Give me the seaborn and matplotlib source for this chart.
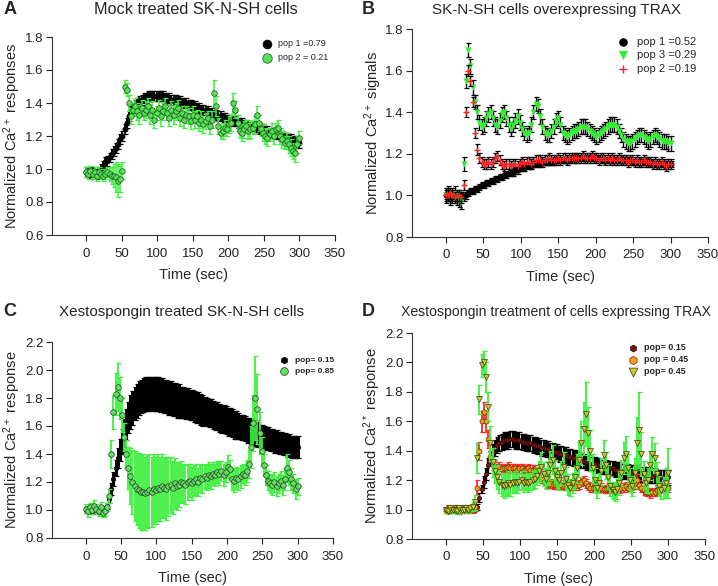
import numpy as np
import matplotlib
matplotlib.use("Agg")
import matplotlib.pyplot as plt
import seaborn as sns

# sampling grid (s), one reading every 3 s
time_s = list(range(0, 301, 3))

# ---- panel A: mock treated ----
a_pop1 = [0.98, 0.98, 0.97, 0.98, 0.98, 0.97, 0.98, 1.00, 1.02, 1.04,
          1.05, 1.07, 1.09, 1.11, 1.13, 1.15, 1.18, 1.20, 1.24, 1.28,
          1.32, 1.35, 1.37, 1.39, 1.40, 1.41, 1.42, 1.43, 1.43, 1.44,
          1.44, 1.44, 1.44, 1.44, 1.44, 1.44, 1.44, 1.43, 1.43, 1.43,
          1.42, 1.42, 1.42, 1.41, 1.41, 1.40, 1.40, 1.40, 1.39, 1.39,
          1.38, 1.38, 1.37, 1.37, 1.36, 1.36, 1.35, 1.35, 1.34, 1.34,
          1.33, 1.33, 1.32, 1.32, 1.31, 1.31, 1.30, 1.30, 1.30, 1.29,
          1.29, 1.28, 1.28, 1.28, 1.27, 1.27, 1.26, 1.26, 1.26, 1.25,
          1.25, 1.24, 1.24, 1.24, 1.23, 1.23, 1.22, 1.22, 1.22, 1.21,
          1.21, 1.20, 1.20, 1.19, 1.19, 1.18, 1.18, 1.17, 1.17, 1.16,
          1.16]
a_pop1_err = 0.03
a_pop2 = [0.98, 0.97, 0.99, 0.97, 0.98, 0.96, 0.98, 0.97, 0.96, 0.97,
          0.98, 0.97, 0.96, 0.96, 0.95, 0.93, 0.94, 0.99, 1.50, 1.48,
          1.40, 1.32, 1.36, 1.38, 1.35, 1.33, 1.37, 1.34, 1.36, 1.38,
          1.33, 1.36, 1.30, 1.34, 1.37, 1.32, 1.35, 1.38, 1.34, 1.31,
          1.36, 1.33, 1.35, 1.37, 1.31, 1.34, 1.30, 1.33, 1.32, 1.29,
          1.33, 1.30, 1.32, 1.28, 1.30, 1.27, 1.29, 1.31, 1.26, 1.30,
          1.46, 1.38, 1.26, 1.22, 1.23, 1.25, 1.24, 1.27, 1.28, 1.40,
          1.36, 1.28, 1.23, 1.22, 1.24, 1.26, 1.23, 1.24, 1.25, 1.27,
          1.33, 1.28, 1.24, 1.22, 1.20, 1.19, 1.21, 1.23, 1.20, 1.24,
          1.25, 1.20, 1.18, 1.16, 1.17, 1.15, 1.13, 1.11, 1.10, 1.15,
          1.19]
a_pop2_err = [0.03, 0.03, 0.03, 0.03, 0.03, 0.03, 0.03, 0.03, 0.03, 0.03,
              0.03, 0.04, 0.05, 0.07, 0.09, 0.10, 0.08, 0.05, 0.04, 0.04,
              0.05, 0.05, 0.04, 0.05, 0.05, 0.06, 0.05, 0.04, 0.05, 0.05,
              0.06, 0.05, 0.05, 0.04, 0.05, 0.06, 0.05, 0.05, 0.04, 0.05,
              0.05, 0.06, 0.05, 0.05, 0.05, 0.04, 0.05, 0.05, 0.05, 0.05,
              0.05, 0.05, 0.04, 0.05, 0.05, 0.05, 0.05, 0.04, 0.05, 0.05,
              0.08, 0.06, 0.05, 0.04, 0.05, 0.05, 0.04, 0.05, 0.05, 0.06,
              0.05, 0.05, 0.04, 0.05, 0.05, 0.04, 0.05, 0.05, 0.04, 0.05,
              0.05, 0.05, 0.04, 0.05, 0.05, 0.05, 0.04, 0.05, 0.05, 0.04,
              0.05, 0.05, 0.05, 0.04, 0.05, 0.05, 0.05, 0.05, 0.06, 0.05,
              0.04]

# ---- panel B: TRAX overexpression ----
b_pop1 = [1.00, 1.00, 0.99, 1.00, 1.00, 0.99, 1.00, 1.00, 0.99, 1.00,
          1.01, 1.02, 1.02, 1.03, 1.03, 1.04, 1.05, 1.05, 1.06, 1.06,
          1.07, 1.07, 1.08, 1.08, 1.09, 1.09, 1.10, 1.10, 1.11, 1.11,
          1.11, 1.12, 1.12, 1.13, 1.13, 1.13, 1.14, 1.14, 1.14, 1.15,
          1.15, 1.15, 1.15, 1.16, 1.16, 1.16, 1.16, 1.16, 1.17, 1.17,
          1.17, 1.17, 1.17, 1.17, 1.17, 1.17, 1.18, 1.18, 1.18, 1.18,
          1.18, 1.18, 1.18, 1.18, 1.18, 1.18, 1.18, 1.18, 1.18, 1.18,
          1.17, 1.17, 1.17, 1.17, 1.17, 1.17, 1.17, 1.17, 1.17, 1.17,
          1.17, 1.17, 1.17, 1.16, 1.16, 1.16, 1.16, 1.16, 1.16, 1.16,
          1.16, 1.16, 1.15, 1.15, 1.15, 1.15, 1.15, 1.15, 1.15, 1.15,
          1.15]
b_pop1_err = 0.015
b_pop3 = [1.00, 1.01, 0.99, 1.00, 1.01, 0.99, 0.98, 0.97, 1.15, 1.55,
          1.70, 1.62, 1.52, 1.45, 1.40, 1.35, 1.33, 1.34, 1.37, 1.39,
          1.40, 1.37, 1.34, 1.33, 1.36, 1.39, 1.40, 1.37, 1.34, 1.32,
          1.34, 1.36, 1.38, 1.35, 1.32, 1.30, 1.29, 1.30, 1.34, 1.40,
          1.44, 1.43, 1.38, 1.33, 1.30, 1.29, 1.29, 1.31, 1.33, 1.36,
          1.37, 1.34, 1.30, 1.29, 1.28, 1.29, 1.30, 1.31, 1.31, 1.32,
          1.33, 1.33, 1.33, 1.32, 1.31, 1.30, 1.29, 1.28, 1.29, 1.30,
          1.31, 1.32, 1.33, 1.34, 1.34, 1.34, 1.33, 1.31, 1.29, 1.27,
          1.26, 1.25, 1.25, 1.26, 1.27, 1.28, 1.29, 1.29, 1.28, 1.27,
          1.26, 1.27, 1.28, 1.29, 1.28, 1.27, 1.26, 1.26, 1.26, 1.25,
          1.25]
b_pop3_err = 0.035
b_pop2 = [1.00, 1.00, 1.01, 1.00, 0.99, 1.00, 1.00, 0.99, 1.05, 1.40,
          1.60, 1.55, 1.45, 1.30, 1.22, 1.18, 1.16, 1.15, 1.15, 1.16,
          1.15, 1.16, 1.18, 1.19, 1.17, 1.15, 1.14, 1.15, 1.15, 1.14,
          1.15, 1.15, 1.14, 1.15, 1.16, 1.15, 1.16, 1.16, 1.15, 1.16,
          1.17, 1.17, 1.17, 1.16, 1.17, 1.17, 1.18, 1.17, 1.17, 1.17,
          1.18, 1.17, 1.18, 1.18, 1.17, 1.18, 1.18, 1.18, 1.18, 1.18,
          1.18, 1.19, 1.18, 1.18, 1.18, 1.19, 1.18, 1.18, 1.17, 1.18,
          1.18, 1.17, 1.18, 1.17, 1.18, 1.17, 1.17, 1.18, 1.17, 1.17,
          1.17, 1.16, 1.17, 1.17, 1.16, 1.17, 1.16, 1.16, 1.17, 1.16,
          1.16, 1.16, 1.15, 1.16, 1.15, 1.15, 1.16, 1.15, 1.14, 1.15,
          1.15]
b_pop2_err = 0.025

# ---- panel C: xestospongin ----
c_pop15 = [1.00, 1.01, 1.00, 0.99, 1.00, 1.00, 0.99, 1.00, 1.00, 1.01,
           1.03, 1.08, 1.15, 1.22, 1.30, 1.37, 1.43, 1.49, 1.55, 1.61,
           1.66, 1.70, 1.73, 1.76, 1.78, 1.80, 1.81, 1.82, 1.83, 1.83,
           1.83, 1.83, 1.83, 1.83, 1.83, 1.82, 1.82, 1.81, 1.81, 1.80,
           1.80, 1.79, 1.79, 1.78, 1.78, 1.77, 1.77, 1.76, 1.76, 1.75,
           1.75, 1.74, 1.73, 1.73, 1.72, 1.71, 1.71, 1.70, 1.69, 1.69,
           1.68, 1.67, 1.67, 1.66, 1.65, 1.65, 1.64, 1.63, 1.63, 1.62,
           1.61, 1.61, 1.60, 1.59, 1.59, 1.58, 1.57, 1.57, 1.56, 1.55,
           1.55, 1.54, 1.53, 1.53, 1.52, 1.51, 1.51, 1.50, 1.50, 1.49,
           1.49, 1.48, 1.48, 1.47, 1.47, 1.46, 1.46, 1.45, 1.45, 1.45,
           1.45]
c_pop15_err = [0.02, 0.02, 0.02, 0.02, 0.02, 0.02, 0.02, 0.02, 0.02, 0.02,
               0.02, 0.03, 0.04, 0.05, 0.06, 0.07, 0.08, 0.09, 0.10, 0.11,
               0.11, 0.12, 0.12, 0.12, 0.12, 0.12, 0.12, 0.12, 0.12, 0.12,
               0.12, 0.12, 0.12, 0.12, 0.12, 0.12, 0.12, 0.12, 0.12, 0.12,
               0.12, 0.12, 0.12, 0.12, 0.12, 0.11, 0.11, 0.11, 0.11, 0.11,
               0.11, 0.11, 0.11, 0.11, 0.11, 0.11, 0.10, 0.10, 0.10, 0.10,
               0.10, 0.10, 0.10, 0.10, 0.10, 0.10, 0.10, 0.10, 0.10, 0.10,
               0.10, 0.10, 0.09, 0.09, 0.09, 0.09, 0.09, 0.09, 0.09, 0.09,
               0.09, 0.09, 0.08, 0.08, 0.08, 0.08, 0.08, 0.08, 0.08, 0.08,
               0.08, 0.08, 0.08, 0.08, 0.08, 0.08, 0.08, 0.08, 0.08, 0.08,
               0.08]
c_pop85 = [1.01, 0.99, 1.02, 1.00, 1.03, 1.01, 0.99, 1.02, 0.98, 0.99,
           1.02, 1.10, 1.40, 1.70, 1.83, 1.88, 1.80, 1.68, 1.52, 1.40,
           1.30, 1.24, 1.20, 1.17, 1.15, 1.14, 1.13, 1.13, 1.12, 1.13,
           1.14, 1.13, 1.15, 1.14, 1.16, 1.15, 1.17, 1.16, 1.15, 1.17,
           1.18, 1.16, 1.19, 1.17, 1.18, 1.20, 1.19, 1.18, 1.20, 1.21,
           1.19, 1.21, 1.22, 1.20, 1.23, 1.22, 1.24, 1.23, 1.25, 1.24,
           1.26, 1.25, 1.27, 1.26, 1.28, 1.25, 1.27, 1.31, 1.29, 1.22,
           1.21, 1.23, 1.22, 1.24, 1.26, 1.25, 1.28, 1.33, 1.45, 1.62,
           1.80, 1.72, 1.55, 1.42, 1.32, 1.25, 1.21, 1.19, 1.18, 1.20,
           1.17, 1.19, 1.21, 1.18, 1.22, 1.30, 1.27, 1.22, 1.19, 1.15,
           1.17]
c_pop85_err = [0.03, 0.04, 0.03, 0.03, 0.04, 0.03, 0.03, 0.04, 0.03, 0.03,
               0.03, 0.05, 0.10, 0.12, 0.15, 0.17, 0.15, 0.12, 0.10, 0.10,
               0.15, 0.20, 0.23, 0.25, 0.26, 0.27, 0.27, 0.27, 0.26, 0.26,
               0.26, 0.25, 0.25, 0.24, 0.24, 0.23, 0.23, 0.22, 0.22, 0.21,
               0.20, 0.19, 0.18, 0.17, 0.16, 0.15, 0.14, 0.14, 0.13, 0.12,
               0.12, 0.11, 0.11, 0.10, 0.10, 0.10, 0.09, 0.09, 0.09, 0.09,
               0.08, 0.08, 0.08, 0.08, 0.07, 0.08, 0.07, 0.08, 0.07, 0.08,
               0.08, 0.08, 0.08, 0.08, 0.07, 0.07, 0.08, 0.10, 0.15, 0.20,
               0.30, 0.25, 0.15, 0.10, 0.08, 0.07, 0.07, 0.07, 0.07, 0.07,
               0.07, 0.07, 0.07, 0.07, 0.08, 0.10, 0.09, 0.08, 0.07, 0.07,
               0.06]

# ---- panel D: xestospongin + TRAX ----
d_pop15 = [1.00, 1.00, 1.01, 1.00, 1.00, 1.01, 1.00, 1.00, 1.01, 1.00,
           1.00, 1.01, 1.00, 1.00, 1.02, 1.08, 1.14, 1.19, 1.24, 1.30,
           1.35, 1.39, 1.42, 1.44, 1.45, 1.46, 1.47, 1.47, 1.47, 1.48,
           1.48, 1.47, 1.47, 1.47, 1.46, 1.46, 1.45, 1.45, 1.45, 1.44,
           1.44, 1.43, 1.43, 1.42, 1.42, 1.41, 1.41, 1.40, 1.40, 1.39,
           1.39, 1.38, 1.38, 1.37, 1.37, 1.36, 1.36, 1.35, 1.35, 1.34,
           1.34, 1.33, 1.33, 1.32, 1.32, 1.31, 1.31, 1.31, 1.30, 1.30,
           1.29, 1.29, 1.29, 1.28, 1.28, 1.28, 1.27, 1.27, 1.27, 1.26,
           1.26, 1.26, 1.26, 1.25, 1.25, 1.25, 1.25, 1.24, 1.24, 1.24,
           1.24, 1.23, 1.23, 1.23, 1.23, 1.22, 1.22, 1.22, 1.22, 1.22,
           1.22]
d_pop15_err = [0.01, 0.01, 0.01, 0.01, 0.01, 0.01, 0.01, 0.01, 0.01, 0.01,
               0.01, 0.01, 0.01, 0.01, 0.02, 0.03, 0.03, 0.04, 0.04, 0.05,
               0.05, 0.055, 0.055, 0.055, 0.055, 0.055, 0.055, 0.055, 0.055, 0.055,
               0.055, 0.055, 0.055, 0.055, 0.055, 0.055, 0.055, 0.055, 0.055, 0.055,
               0.055, 0.055, 0.055, 0.055, 0.055, 0.055, 0.055, 0.055, 0.055, 0.055,
               0.055, 0.055, 0.055, 0.055, 0.055, 0.055, 0.055, 0.055, 0.055, 0.055,
               0.05, 0.05, 0.05, 0.05, 0.05, 0.05, 0.05, 0.05, 0.05, 0.05,
               0.05, 0.05, 0.05, 0.05, 0.05, 0.05, 0.05, 0.05, 0.05, 0.05,
               0.05, 0.05, 0.05, 0.05, 0.05, 0.05, 0.05, 0.05, 0.05, 0.05,
               0.05, 0.05, 0.05, 0.05, 0.05, 0.05, 0.05, 0.05, 0.05, 0.05,
               0.05]
d_pop45a = [1.00, 1.01, 1.00, 1.00, 1.01, 1.00, 0.99, 1.00, 1.01, 1.00,
            1.00, 1.01, 1.00, 1.02, 1.15, 1.40, 1.60, 1.66, 1.60, 1.48,
            1.36, 1.30, 1.29, 1.28, 1.29, 1.28, 1.28, 1.28, 1.29, 1.28,
            1.28, 1.28, 1.27, 1.28, 1.28, 1.27, 1.27, 1.28, 1.27, 1.27,
            1.27, 1.26, 1.24, 1.21, 1.19, 1.18, 1.18, 1.18, 1.17, 1.17,
            1.17, 1.17, 1.17, 1.16, 1.16, 1.16, 1.16, 1.16, 1.16, 1.16,
            1.17, 1.19, 1.20, 1.18, 1.16, 1.15, 1.15, 1.15, 1.14, 1.15,
            1.15, 1.14, 1.14, 1.15, 1.14, 1.14, 1.13, 1.14, 1.14, 1.15,
            1.15, 1.16, 1.15, 1.16, 1.15, 1.18, 1.20, 1.17, 1.15, 1.13,
            1.12, 1.12, 1.11, 1.12, 1.12, 1.13, 1.14, 1.15, 1.16, 1.15,
            1.15]
d_pop45a_err = [0.02, 0.02, 0.02, 0.02, 0.02, 0.02, 0.02, 0.02, 0.02, 0.02,
                0.02, 0.02, 0.02, 0.03, 0.05, 0.06, 0.07, 0.07, 0.07, 0.06,
                0.04, 0.03, 0.03, 0.03, 0.03, 0.03, 0.03, 0.03, 0.03, 0.03,
                0.03, 0.03, 0.03, 0.03, 0.03, 0.03, 0.03, 0.03, 0.03, 0.03,
                0.03, 0.03, 0.03, 0.03, 0.03, 0.03, 0.03, 0.03, 0.03, 0.03,
                0.03, 0.03, 0.03, 0.03, 0.03, 0.03, 0.03, 0.03, 0.03, 0.03,
                0.03, 0.03, 0.03, 0.03, 0.03, 0.03, 0.03, 0.03, 0.03, 0.03,
                0.03, 0.03, 0.03, 0.03, 0.03, 0.03, 0.03, 0.03, 0.03, 0.03,
                0.03, 0.03, 0.03, 0.03, 0.03, 0.04, 0.04, 0.03, 0.03, 0.03,
                0.03, 0.03, 0.03, 0.03, 0.03, 0.03, 0.03, 0.03, 0.03, 0.03,
                0.03]
d_pop45b = [1.00, 0.99, 1.01, 1.00, 1.00, 0.99, 1.01, 1.00, 1.00, 1.01,
            1.00, 1.01, 1.02, 1.05, 1.35, 1.75, 1.98, 2.00, 1.90, 1.70,
            1.45, 1.32, 1.26, 1.22, 1.19, 1.17, 1.16, 1.17, 1.18, 1.17,
            1.18, 1.19, 1.18, 1.19, 1.20, 1.18, 1.19, 1.18, 1.19, 1.20,
            1.21, 1.23, 1.26, 1.29, 1.24, 1.21, 1.25, 1.30, 1.34, 1.26,
            1.22, 1.20, 1.25, 1.29, 1.21, 1.17, 1.15, 1.18, 1.22, 1.28,
            1.34, 1.45, 1.55, 1.65, 1.52, 1.40, 1.28, 1.20, 1.15, 1.18,
            1.26, 1.37, 1.30, 1.22, 1.16, 1.13, 1.12, 1.14, 1.18, 1.25,
            1.35, 1.38, 1.28, 1.20, 1.16, 1.25, 1.45, 1.54, 1.38, 1.24,
            1.18, 1.20, 1.30, 1.38, 1.35, 1.24, 1.16, 1.13, 1.15, 1.18,
            1.25]
d_pop45b_err = [0.02, 0.02, 0.02, 0.02, 0.02, 0.02, 0.02, 0.02, 0.02, 0.02,
                0.02, 0.02, 0.03, 0.05, 0.10, 0.10, 0.08, 0.08, 0.10, 0.10,
                0.12, 0.10, 0.08, 0.08, 0.08, 0.08, 0.08, 0.08, 0.08, 0.08,
                0.07, 0.07, 0.07, 0.06, 0.06, 0.06, 0.06, 0.06, 0.06, 0.06,
                0.06, 0.06, 0.07, 0.10, 0.08, 0.07, 0.08, 0.10, 0.10, 0.08,
                0.07, 0.07, 0.08, 0.10, 0.08, 0.07, 0.06, 0.07, 0.08, 0.10,
                0.12, 0.15, 0.18, 0.22, 0.18, 0.14, 0.10, 0.08, 0.07, 0.07,
                0.09, 0.10, 0.09, 0.08, 0.07, 0.06, 0.06, 0.07, 0.08, 0.09,
                0.11, 0.12, 0.10, 0.08, 0.07, 0.10, 0.18, 0.26, 0.15, 0.09,
                0.07, 0.08, 0.10, 0.11, 0.10, 0.08, 0.07, 0.06, 0.07, 0.10,
                0.17]

x_ticks = [0, 50, 100, 150, 200, 250, 300, 350]

sns.set_style("ticks")
plt.rcParams["font.family"] = ["Liberation Sans", "DejaVu Sans"]
plt.rcParams["mathtext.default"] = "regular"

W, H = 718, 586
fig = plt.figure(figsize=(W / 100, H / 100), dpi=100)


def px_axes(left, top, right, bottom):
    return fig.add_axes([left / W, 1 - bottom / H, (right - left) / W, (bottom - top) / H])


def draw_series(ax, mean, err, marker, face, edge, ecolor, size, label, z, elw=1.0, mlw=0.5):
    ax.errorbar(time_s, mean, yerr=err, fmt="none", ecolor=ecolor, elinewidth=elw,
                capsize=1.8, capthick=0.9, zorder=z)
    if marker == "+":
        sns.scatterplot(x=time_s, y=mean, ax=ax, marker=marker, color=face, s=size,
                        linewidth=1.0, label=label, zorder=z + 0.5)
    else:
        sns.scatterplot(x=time_s, y=mean, ax=ax, marker=marker, color=face, edgecolor=edge,
                        s=size, linewidth=mlw, label=label, zorder=z + 0.5)


def style_axes(ax, xlim, yticks, ylabel, label_x):
    ax.set_xlim(*xlim)
    ax.set_ylim(yticks[0], yticks[-1])
    ax.set_xticks(x_ticks)
    ax.set_yticks(yticks)
    ax.set_yticklabels([f"{v:.1f}" for v in yticks])
    ax.tick_params(direction="out", length=4, width=0.8, labelsize=9.5, colors="#222222")
    ax.tick_params(axis="x", pad=5)
    ax.tick_params(axis="y", pad=2)
    for side in ("top", "right"):
        ax.spines[side].set_visible(False)
    for side in ("left", "bottom"):
        ax.spines[side].set_linewidth(0.8)
        ax.spines[side].set_color("#333333")
    ax.set_xlabel("Time (sec)", fontsize=10.5, labelpad=6)
    ax.set_ylabel(ylabel, fontsize=10.5, va="center")
    ax.yaxis.set_label_coords(label_x, 0.5)


green = "#3CF03C"
leg_kw = dict(frameon=False, borderpad=0, handlelength=1.0, handletextpad=0.8,
              borderaxespad=0)

# A
axA = px_axes(52, 37, 335, 235)
draw_series(axA, a_pop1, a_pop1_err, "o", "black", "black", "black", 14, "pop 1 =0.79", 2, elw=1.3)
draw_series(axA, a_pop2, a_pop2_err, "o", "#55E055", "#1E4D1E", green, 16, "pop 2 = 0.21", 4, elw=1.1)
style_axes(axA, (-48, 350), [0.6, 0.8, 1.0, 1.2, 1.4, 1.6, 1.8], "Normalized Ca$^{2+}$ responses", -0.141)
axA.legend(loc="upper left", bbox_to_anchor=(262 / W, 1 - 39 / H), bbox_transform=fig.transFigure,
           fontsize=6.5, labelspacing=0.55, markerscale=1.7, **leg_kw)

# B
axB = px_axes(412, 29, 708, 237)
draw_series(axB, b_pop1, b_pop1_err, "o", "black", "black", "black", 14, "pop 1 =0.52", 2)
draw_series(axB, b_pop3, b_pop3_err, "v", "#33F033", "#33F033", "black", 20, "pop 3 =0.29", 4, mlw=0)
draw_series(axB, b_pop2, b_pop2_err, "+", "#FF2020", None, "black", 14, "pop 2 =0.19", 6)
style_axes(axB, (-45, 350), [0.8, 1.0, 1.2, 1.4, 1.6, 1.8], "Normalized Ca$^{2+}$ signals", -0.132)
axB.legend(loc="upper left", bbox_to_anchor=(617 / W, 1 - 37 / H), bbox_transform=fig.transFigure,
           fontsize=8, labelspacing=0.3, markerscale=1.5, **leg_kw)

# C
axC = px_axes(52, 342, 333, 538)
draw_series(axC, c_pop15, c_pop15_err, "h", "black", "black", "black", 12, "pop= 0.15", 2, elw=2.2)
draw_series(axC, c_pop85, c_pop85_err, "o", "#66DD66", "#1E3D1E", green, 16, "pop= 0.85", 4, elw=1.3)
style_axes(axC, (-48, 350), [0.8, 1.0, 1.2, 1.4, 1.6, 1.8, 2.0, 2.2], "Normalized Ca$^{2+}$ response", -0.142)
axC.legend(loc="upper left", bbox_to_anchor=(280 / W, 1 - 356 / H), bbox_transform=fig.transFigure,
           labelspacing=0.4, prop={"weight": "bold", "size": 6}, markerscale=1.4, **leg_kw)

# D
axD = px_axes(412, 333, 705, 539)
draw_series(axD, d_pop15, d_pop15_err, "h", "#7A1515", "#2A0505", "black", 11, "pop= 0.15", 2, elw=1.6)
draw_series(axD, d_pop45a, d_pop45a_err, "h", "#FF9A1A", "#5A3000", "#FF2A2A", 16, "pop = 0.45", 4, elw=1.3)
draw_series(axD, d_pop45b, d_pop45b_err, "v", "#C8C832", "#3A3A10", green, 18, "pop= 0.45", 6, elw=1.3)
style_axes(axD, (-46, 350), [0.8, 1.0, 1.2, 1.4, 1.6, 1.8, 2.0, 2.2], "Normalized Ca$^{2*}$ response", -0.137)
axD.legend(loc="upper left", bbox_to_anchor=(628 / W, 1 - 343 / H), bbox_transform=fig.transFigure,
           labelspacing=0.35, prop={"weight": "bold", "size": 6.5}, markerscale=1.5, **leg_kw)

# titles and panel letters
fig.text(196 / W, 1 - 10 / H, "Mock treated SK-N-SH cells", ha="center", va="center", fontsize=11.7)
fig.text(556 / W, 1 - 10 / H, "SK-N-SH cells overexpressing TRAX", ha="center", va="center", fontsize=11)
fig.text(181 / W, 1 - 312 / H, "Xestospongin treated SK-N-SH cells", ha="center", va="center", fontsize=11)
fig.text(556 / W, 1 - 312 / H, "Xestospongin treatment of cells expressing TRAX", ha="center", va="center",
         fontsize=10.1)
for letter, x, y in [("A", 4, 10), ("B", 362, 10), ("C", 3, 312), ("D", 362, 312)]:
    fig.text(x / W, 1 - y / H, letter, ha="left", va="center", fontsize=13, fontweight="bold")

fig.savefig("out.png", dpi=100)
